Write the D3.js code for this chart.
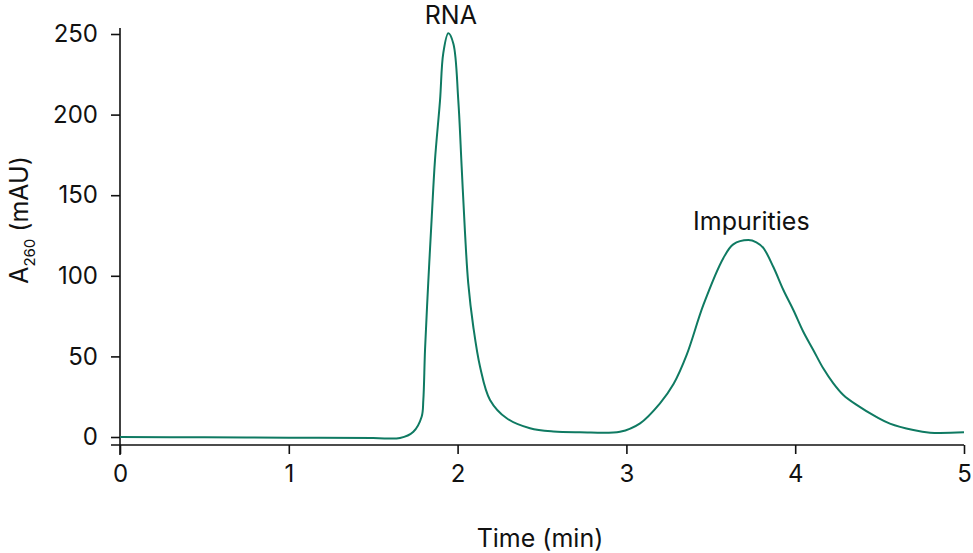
<!DOCTYPE html>
<html>
<head>
<meta charset="utf-8">
<script src="https://cdn.jsdelivr.net/npm/d3@7"></script>
<style>
  body { margin: 0; background: #fff; }
  text { font-family: Inter, Roboto, sans-serif; fill: #111; }
</style>
</head>
<body>
<div id="viz"></div>
<script>
// chromatogram trace
var timeMin = [0, 0.5, 1.0, 1.5, 1.659, 1.738, 1.787, 1.797, 1.807, 1.826, 1.847, 1.866,
  1.896, 1.915, 1.945, 1.975, 2.004, 2.024, 2.044, 2.063, 2.093, 2.133, 2.192, 2.291,
  2.429, 2.567, 2.725, 2.962, 3.081, 3.199, 3.28, 3.357, 3.456, 3.574, 3.633, 3.722,
  3.77, 3.811, 3.870, 3.930, 3.989, 4.048, 4.107, 4.166, 4.226, 4.285, 4.364, 4.483,
  4.561, 4.700, 4.799, 5.0];
var absorbance = [0, -0.2, -0.4, -0.6, -0.6, 3.3, 12.6, 23, 54, 95.5, 136.7, 171.8,
  209, 238, 250.4, 244, 209, 167.7, 126.5, 95.5, 68.4, 43.6, 23, 11.6,
  5.4, 3.4, 3.0, 3.3, 8.5, 20.9, 33, 50.9, 81.9, 110.9, 119.5, 122.2,
  120.8, 117.3, 105.6, 91.2, 78.8, 65.3, 54, 42.6, 33.3, 26.1, 19.9, 12.3,
  8.3, 4.3, 2.7, 2.9];
var xTicks = [0, 1, 2, 3, 4, 5];
var yTicks = [0, 50, 100, 150, 200, 250];
var peakNames = ["RNA", "Impurities"];
var peakTimes = [1.96, 3.74];
var peakValues = [250, 122];

var width = 973, height = 553;

var x = d3.scaleLinear().domain([0, 5]).range([120, 964]);
var y = d3.scaleLinear().domain([0, 250]).range([437, 34]);

var svg = d3.select("#viz").append("svg")
  .attr("width", width)
  .attr("height", height);

// axes
var xAxis = svg.append("g")
  .attr("transform", "translate(0,445)")
  .call(d3.axisBottom(x).tickValues(xTicks).tickSize(9).tickPadding(11).tickFormat(d3.format("d")));
xAxis.select(".domain").attr("d", "M111,0H964");

var yAxis = svg.append("g")
  .attr("transform", "translate(120,0)")
  .call(d3.axisLeft(y).tickValues(yTicks).tickSize(9).tickPadding(13));
yAxis.select(".domain").attr("d", "M0,28V455");

svg.selectAll(".domain, .tick line").attr("stroke", "#111").attr("stroke-width", 1.6);
svg.selectAll(".tick text").style("font-size", "24px").style("font-family", "Inter, Roboto, sans-serif").attr("fill", "#111");

// trace
var line = d3.line()
  .x(function(d, i) { return x(timeMin[i]); })
  .y(function(d) { return y(d); })
  .curve(d3.curveCatmullRom.alpha(0.5));

svg.append("path")
  .datum(absorbance)
  .attr("d", line)
  .attr("fill", "none")
  .attr("stroke", "#0f7a62")
  .attr("stroke-width", 2);

// peak labels
for (var i = 0; i < peakNames.length; i++) {
  svg.append("text")
    .attr("x", x(peakTimes[i]))
    .attr("y", y(peakValues[i]) - 10)
    .attr("text-anchor", "middle")
    .style("font-size", "25px")
    .text(peakNames[i]);
}

// axis titles
svg.append("text")
  .attr("x", 540)
  .attr("y", 547)
  .attr("text-anchor", "middle")
  .style("font-size", "25px")
  .text("Time (min)");

var yt = svg.append("text")
  .attr("transform", "translate(28,220) rotate(-90)")
  .attr("text-anchor", "middle")
  .style("font-size", "25px");
yt.append("tspan").text("A");
yt.append("tspan").attr("dy", 7).style("font-size", "15px").text("260");
yt.append("tspan").attr("dy", -7).text(" (mAU)");
</script>
</body>
</html>
